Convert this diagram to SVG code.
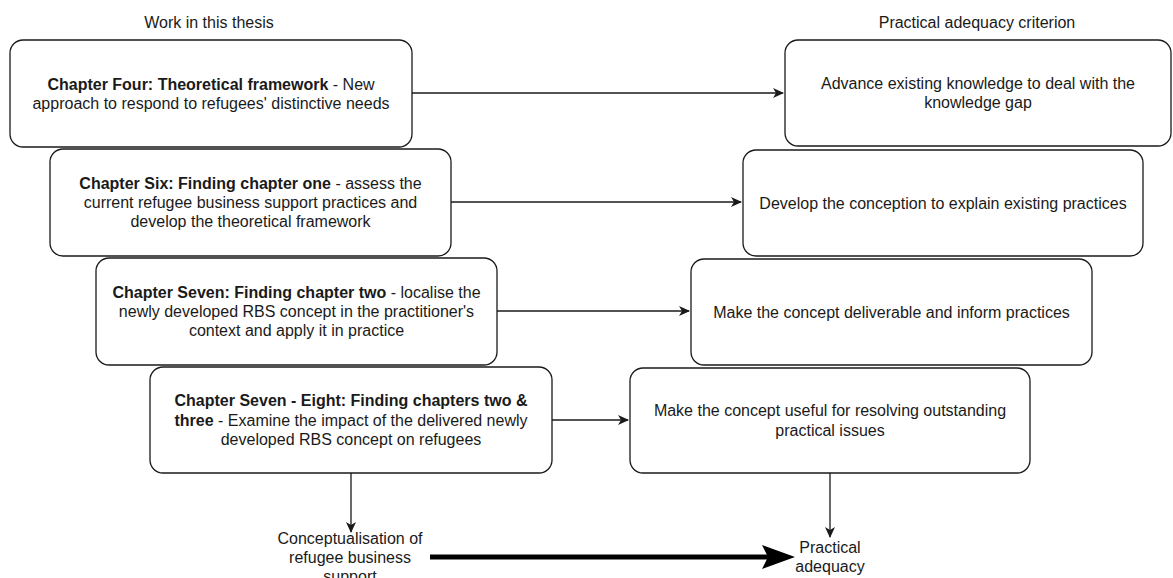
<svg xmlns="http://www.w3.org/2000/svg" width="1173" height="578" viewBox="0 0 1173 578">
  <style>
    .box { fill: #ffffff; stroke: #1a1a1a; stroke-width: 1.3; }
    .t { font-family: "Liberation Sans", Arial, Helvetica, sans-serif; font-size: 16px; fill: #1a1a1a; text-anchor: middle; }
    .b { font-weight: bold; }
    .edge { fill: none; stroke: #1a1a1a; stroke-width: 1.3; }
  </style>
  <defs>
    <marker id="arrow" markerWidth="12" markerHeight="10" refX="10" refY="5" orient="auto" markerUnits="userSpaceOnUse">
      <path d="M0,0 L11,5 L0,10 L3,5 Z" fill="#1a1a1a"/>
    </marker>
  </defs>

  <rect width="1173" height="578" fill="#ffffff"/>

  <!-- column headings -->
  <text class="t" x="209" y="28">Work in this thesis</text>
  <text class="t" x="977" y="28">Practical adequacy criterion</text>

  <!-- connectors -->
  <g id="connectors">
    <line class="edge" x1="412" y1="93" x2="783" y2="93" marker-end="url(#arrow)"/>
    <line class="edge" x1="451" y1="202" x2="741" y2="202" marker-end="url(#arrow)"/>
    <line class="edge" x1="497" y1="311" x2="689" y2="311" marker-end="url(#arrow)"/>
    <line class="edge" x1="552" y1="420" x2="628" y2="420" marker-end="url(#arrow)"/>
    <line class="edge" x1="351" y1="473" x2="351" y2="532" marker-end="url(#arrow)"/>
    <line class="edge" x1="830" y1="473" x2="830" y2="537" marker-end="url(#arrow)"/>
    <!-- bold arrow between the two outcomes -->
    <line x1="430" y1="557" x2="770" y2="557" stroke="#000000" stroke-width="5"/>
    <path d="M762,545 L795,557 L762,569 L768,557 Z" fill="#000000"/>
  </g>

  <!-- left column -->
  <g id="ch4">
    <rect class="box" x="10" y="40" width="402" height="107" rx="13"/>
    <text class="t" x="211" y="89.5"><tspan class="b">Chapter Four: Theoretical framework</tspan> - New</text>
    <text class="t" x="211" y="108.7">approach to respond to refugees' distinctive needs</text>
  </g>
  <g id="ch6">
    <rect class="box" x="50" y="149" width="401" height="107" rx="13"/>
    <text class="t" x="250.5" y="188.8"><tspan class="b">Chapter Six: Finding chapter one</tspan> - assess the</text>
    <text class="t" x="250.5" y="208">current refugee business support practices and</text>
    <text class="t" x="250.5" y="227.2">develop the theoretical framework</text>
  </g>
  <g id="ch7">
    <rect class="box" x="96" y="258" width="401" height="107" rx="13"/>
    <text class="t" x="296.5" y="297.8"><tspan class="b">Chapter Seven: Finding chapter two</tspan> - localise the</text>
    <text class="t" x="296.5" y="317">newly developed RBS concept in the practitioner's</text>
    <text class="t" x="296.5" y="336.2">context and apply it in practice</text>
  </g>
  <g id="ch7-8">
    <rect class="box" x="150" y="367" width="402" height="106" rx="13"/>
    <text class="t b" x="351" y="406.3">Chapter Seven - Eight: Finding chapters two &amp;</text>
    <text class="t" x="351" y="425.5"><tspan class="b">three</tspan> - Examine the impact of the delivered newly</text>
    <text class="t" x="351" y="444.7">developed RBS concept on refugees</text>
  </g>

  <!-- right column -->
  <g id="crit1">
    <rect class="box" x="785" y="40" width="386" height="106" rx="13"/>
    <text class="t" x="978" y="89">Advance existing knowledge to deal with the</text>
    <text class="t" x="978" y="108.2">knowledge gap</text>
  </g>
  <g id="crit2">
    <rect class="box" x="743" y="150" width="400" height="106" rx="13"/>
    <text class="t" x="943" y="208.5">Develop the conception to explain existing practices</text>
  </g>
  <g id="crit3">
    <rect class="box" x="691" y="259" width="401" height="106" rx="13"/>
    <text class="t" x="891.5" y="317.5">Make the concept deliverable and inform practices</text>
  </g>
  <g id="crit4">
    <rect class="box" x="630" y="368" width="400" height="105" rx="13"/>
    <text class="t" x="830" y="416.4">Make the concept useful for resolving outstanding</text>
    <text class="t" x="830" y="435.6">practical issues</text>
  </g>

  <!-- outcomes -->
  <g id="conceptualisation">
    <text class="t" x="350" y="544">Conceptualisation of</text>
    <text class="t" x="350" y="563">refugee business</text>
    <text class="t" x="350" y="582">support</text>
  </g>
  <g id="adequacy">
    <text class="t" x="830" y="553">Practical</text>
    <text class="t" x="830" y="572">adequacy</text>
  </g>
</svg>
